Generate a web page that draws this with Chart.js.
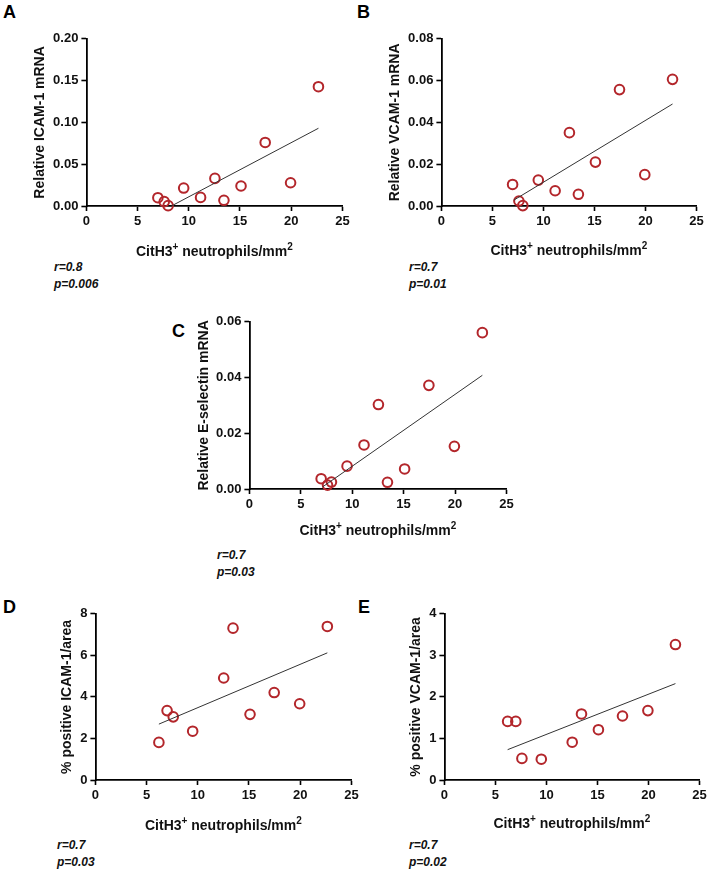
<!DOCTYPE html>
<html>
<head>
<meta charset="utf-8">
<script src="https://cdn.jsdelivr.net/npm/chart.js@4.4.1/dist/chart.umd.min.js"></script>
<style>
  body { margin: 0; background: #fff; width: 708px; height: 880px; position: relative; overflow: hidden; font-family: "Liberation Sans", Arial, sans-serif; }
  .box { position: absolute; }
  .letter { position: absolute; font-weight: bold; font-size: 18px; line-height: 18px; color: #000; }
  .stats { position: absolute; font-weight: bold; font-style: italic; font-size: 12px; line-height: 17px; color: #111; }
</style>
</head>
<body>
<div class="letter" style="left:3px;top:3px">A</div>
<div class="letter" style="left:357px;top:3px">B</div>
<div class="letter" style="left:172px;top:322px">C</div>
<div class="letter" style="left:3px;top:598px">D</div>
<div class="letter" style="left:358px;top:598px">E</div>

<div class="stats" style="left:54px;top:259px">r=0.8<br>p=0.006</div>
<div class="stats" style="left:409px;top:259px">r=0.7<br>p=0.01</div>
<div class="stats" style="left:217px;top:547px">r=0.7<br>p=0.03</div>
<div class="stats" style="left:57px;top:837px">r=0.7<br>p=0.03</div>
<div class="stats" style="left:409px;top:837px">r=0.7<br>p=0.02</div>

<script>
// x values (CitH3+ neutrophils/mm2)
const citH3Mrna = [6.98, 7.6, 7.98, 9.5, 11.15, 12.55, 13.43, 15.1, 17.46, 19.94, 22.66];
const citH3Ihc = [6.2, 7.0, 7.6, 9.5, 12.53, 13.44, 15.1, 17.46, 19.95, 22.65];

// panel values
const icamMrna = [0.0099, 0.0052, 0.0004, 0.0215, 0.0103, 0.033, 0.0068, 0.0239, 0.076, 0.0278, 0.1427];
const vcamMrna = [0.0103, 0.0024, 0.0002, 0.0124, 0.0073, 0.0351, 0.0056, 0.021, 0.0557, 0.015, 0.0606];
const eselMrna = [0.0037, 0.0014, 0.0025, 0.0082, 0.0158, 0.0303, 0.0024, 0.0072, 0.0372, 0.0153, 0.0561];
const icamArea = [1.81, 3.34, 3.04, 2.35, 4.91, 7.31, 3.16, 4.21, 3.67, 7.39];
const vcamArea = [1.41, 1.41, 0.52, 0.50, 0.91, 1.59, 1.21, 1.54, 1.67, 3.26];

// regression line end points
const fitIcamMrnaX = [8.3, 22.66];
const fitIcamMrnaY = [0.0, 0.093];
const fitVcamMrnaX = [7.1, 22.66];
const fitVcamMrnaY = [0.0028, 0.0488];
const fitEselMrnaX = [7.1, 22.66];
const fitEselMrnaY = [0.0007, 0.0408];
const fitIcamAreaX = [6.2, 22.65];
const fitIcamAreaY = [2.69, 6.12];
const fitVcamAreaX = [6.2, 22.65];
const fitVcamAreaY = [0.73, 2.32];

const xTicks = [0, 5, 10, 15, 20, 25];
// x title pieces: [text, superscript?]
const xTitleParts = [['CitH3', false], ['+', true], [' neutrophils/mm', false], ['2', true]];

const FONT = '"Liberation Sans", Arial, sans-serif';
const RED = '#b3262b';

function pts(xs, ys) {
  return xs.map((x, i) => ({x: x, y: ys[i]}));
}

// draws the x axis title with real superscripts
const supTitle = {
  id: 'supTitle',
  afterDraw(chart, args, o) {
    const ctx = chart.ctx;
    const area = chart.chartArea;
    const main = 'bold 14px ' + FONT, sup = 'bold 10px ' + FONT;
    let w = 0;
    xTitleParts.forEach(p => { ctx.font = p[1] ? sup : main; w += ctx.measureText(p[0]).width; });
    let x = (area.left + area.right) / 2 - w / 2;
    const y = o.y;
    ctx.save();
    ctx.fillStyle = '#111';
    ctx.textBaseline = 'alphabetic';
    ctx.textAlign = 'left';
    xTitleParts.forEach(p => {
      ctx.font = p[1] ? sup : main;
      ctx.fillText(p[0], x, p[1] ? y - 6 : y);
      x += ctx.measureText(p[0]).width;
    });
    ctx.restore();
  }
};

function makePanel(opts) {
  const b = opts.area;
  const W = b.l - opts.yTitleX + 8.4;
  const H = opts.xTitleY - b.b + 10;
  const div = document.createElement('div');
  div.className = 'box';
  const left = b.l - W, top = b.t - 10;
  div.style.left = left + 'px';
  div.style.top = top + 'px';
  div.style.width = (b.r + 14 - left) + 'px';
  div.style.height = (b.b + H - top) + 'px';
  const cv = document.createElement('canvas');
  div.appendChild(cv);
  document.body.appendChild(div);

  const axisCommon = {
    grid: { display: true, drawOnChartArea: false, drawTicks: true, tickLength: 5, tickColor: '#000', tickWidth: 1.6 },
    border: { display: true, color: '#000', width: 1.8 },
  };

  new Chart(cv, {
    type: 'scatter',
    data: {
      datasets: [{
        data: pts(opts.x, opts.y),
        pointRadius: 4.8,
        pointHoverRadius: 4.8,
        pointBorderWidth: 2,
        pointBorderColor: RED,
        pointBackgroundColor: 'rgba(255,255,255,0)',
        showLine: false,
        clip: false,
        order: 1
      }, {
        data: pts(opts.fitX, opts.fitY),
        showLine: true,
        borderColor: '#333',
        borderWidth: 1,
        pointRadius: 0,
        clip: false,
        order: 0
      }]
    },
    plugins: [supTitle],
    options: {
      responsive: true,
      maintainAspectRatio: false,
      animation: false,
      events: [],
      layout: { padding: { left: 0, top: 10, right: 14, bottom: 0 } },
      plugins: { legend: { display: false }, tooltip: { enabled: false },
        supTitle: { y: opts.xTitleY - top + 5 } },
      scales: {
        x: Object.assign({}, axisCommon, {
          type: 'linear',
          min: 0, max: 25,
          afterBuildTicks: s => { s.ticks = xTicks.map(v => ({value: v})); },
          afterFit: s => { s.height = H; },
          ticks: { color: '#111', padding: 3, font: { family: FONT, size: 13, weight: 'bold' } },
          title: { display: false }
        }),
        y: Object.assign({}, axisCommon, {
          type: 'linear',
          min: 0, max: opts.yTicks[opts.yTicks.length - 1],
          afterBuildTicks: s => { s.ticks = opts.yTicks.map(v => ({value: v})); },
          afterFit: s => { s.width = W; },
          ticks: { color: '#111', padding: 3, font: { family: FONT, size: 13, weight: 'bold' },
            callback: v => v.toFixed(opts.dec) },
          title: { display: true, text: opts.yTitle, color: '#111', padding: 0, font: { family: FONT, size: 14, weight: 'bold' } }
        })
      }
    }
  });
}

makePanel({ area: {l: 86, r: 342, t: 38, b: 206}, yTitleX: 40, xTitleY: 251,
  x: citH3Mrna, y: icamMrna, fitX: fitIcamMrnaX, fitY: fitIcamMrnaY,
  yTicks: [0, 0.05, 0.10, 0.15, 0.20], dec: 2, yTitle: 'Relative ICAM-1 mRNA' });
makePanel({ area: {l: 441, r: 696, t: 38, b: 206}, yTitleX: 395, xTitleY: 250,
  x: citH3Mrna, y: vcamMrna, fitX: fitVcamMrnaX, fitY: fitVcamMrnaY,
  yTicks: [0, 0.02, 0.04, 0.06, 0.08], dec: 2, yTitle: 'Relative VCAM-1 mRNA' });
makePanel({ area: {l: 249, r: 506, t: 321, b: 489}, yTitleX: 204, xTitleY: 530,
  x: citH3Mrna, y: eselMrna, fitX: fitEselMrnaX, fitY: fitEselMrnaY,
  yTicks: [0, 0.02, 0.04, 0.06], dec: 2, yTitle: 'Relative E-selectin mRNA' });
makePanel({ area: {l: 95, r: 351, t: 613, b: 780}, yTitleX: 67, xTitleY: 825,
  x: citH3Ihc, y: icamArea, fitX: fitIcamAreaX, fitY: fitIcamAreaY,
  yTicks: [0, 2, 4, 6, 8], dec: 0, yTitle: '% positive ICAM-1/area' });
makePanel({ area: {l: 444, r: 699, t: 613, b: 780}, yTitleX: 416, xTitleY: 823,
  x: citH3Ihc, y: vcamArea, fitX: fitVcamAreaX, fitY: fitVcamAreaY,
  yTicks: [0, 1, 2, 3, 4], dec: 0, yTitle: '% positive VCAM-1/area' });
</script>
</body>
</html>
